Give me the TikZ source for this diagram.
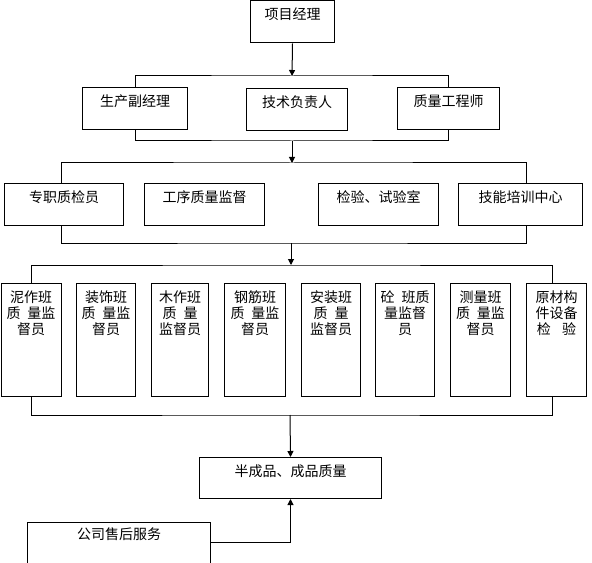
\documentclass[tikz,border=0pt]{standalone}
\usepackage{fontspec}
\setmainfont{Noto Sans CJK SC}
\usetikzlibrary{arrows.meta}
\begin{document}
\begin{tikzpicture}[x=0.75pt,y=-0.75pt,
    box/.style={draw, line width=0.75pt, inner sep=0pt, anchor=north west, align=center,
      text height=14.25pt, text depth=17.25pt, font=\fontsize{10.5pt}{12pt}\selectfont},
    crew/.style={box, text height=38.25pt, text depth=46.5pt},
    link/.style={line width=0.75pt},
    arr/.style={link, -{Triangle[length=4.5pt,width=4.5pt]}}]
   \useasboundingbox (0,0) rectangle (592,563);
   \clip (0,0) rectangle (592,563);
   % management
   \node[box, minimum width=63pt] (pm) at (250,0.5) {项目经理};
   \node[box, minimum width=78.75pt] (prod) at (82,87) {生产副经理};
   \node[box, minimum width=75.75pt] (tech) at (246,88) {技术负责人};
   \node[box, minimum width=76.5pt] (qe) at (397,87) {质量工程师};
   % departments
   \node[box, minimum width=89.25pt] (chk) at (4,183) {专职质检员};
   \node[box, minimum width=90pt] (proc) at (144,183) {工序质量监督};
   \node[box, minimum width=90pt] (lab) at (318,183) {检验、试验室};
   \node[box, minimum width=93pt] (train) at (458,183) {技能培训中心};
   % crews
   \node[crew, minimum width=45pt] (mud) at (0.5,283) {泥作班\\质\hspace{.5em}量监\\督员};
   \node[crew, minimum width=44.25pt] (deco) at (76,283) {装饰班\\质\hspace{.5em}量监\\督员};
   \node[crew, minimum width=42.75pt] (wood) at (151,283) {木作班\\质\hspace{.5em}量\\监督员};
   \node[crew, minimum width=45.75pt] (rebar) at (224,283) {钢筋班\\质\hspace{.5em}量监\\督员};
   \node[crew, minimum width=44.25pt] (inst) at (301,283) {安装班\\质\hspace{.5em}量\\监督员};
   \node[crew, minimum width=44.25pt] (conc) at (375,283) {砼\hspace{.5em}班质\\量监督\\员};
   \node[crew, minimum width=45pt] (surv) at (450,283) {测量班\\质\hspace{.5em}量监\\督员};
   \node[crew, minimum width=45pt] (mat) at (526,283) {原材构\\件设备\\检\hspace{.8em}验};
   % result
   \node[box, minimum width=136.5pt, text depth=16.5pt] (semi) at (199,457) {半成品、成品质量};
   \node[box, minimum width=137.25pt, text height=12.75pt, text depth=27pt] (svc) at (27,522) {公司售后服务};
   \coordinate (b1) at (292,76);
   \coordinate (b2) at (292,141);
   \coordinate (b3) at (292,163);
   \coordinate (b4) at (291,243);
   \coordinate (b5) at (291,265);
   \coordinate (b6) at (290,415);
   \draw[arr] (pm.south) -- (b1);
   \draw[link] (prod.north) |- (b1) -| (qe.north);
   \draw[link] (prod.south) |- (b2) -| (qe.south);
   \draw[arr] (b2) -- (b3);
   \draw[link] ([xshift=-1.9pt]chk.north) |- (b3) -| ([xshift=4.5pt]train.north);
   \draw[link] ([xshift=-1.9pt]chk.south) |- (b4) -| ([xshift=4.5pt]train.south);
   \draw[arr] (b4) -- (b5);
   \draw[link] (mud.north) |- (b5) -| ([xshift=-3pt]mat.north);
   \draw[link] (mud.south) |- (b6) -| ([xshift=-3pt]mat.south);
   \draw[arr] (b6) -- (semi.north);
   \draw[arr] ([yshift=4.9pt]svc.east) -| (semi.south);
\end{tikzpicture}
\end{document}
